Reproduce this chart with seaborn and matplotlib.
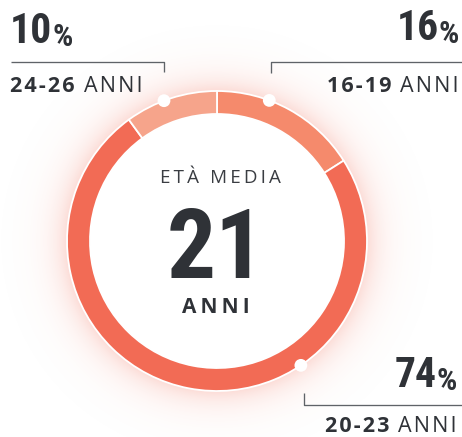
#!/usr/bin/env python3
# -*- coding: utf-8 -*-

import numpy as np
import matplotlib
matplotlib.use("Agg")
import matplotlib.pyplot as plt
import seaborn as sns

# ================= 0. 数据 =================
AGE_GROUPS = ["16-19", "20-23", "24-26"]
SHARES = [16, 74, 10]
SHARE_LABELS = ["16%", "74%", "10%"]
SEG_COLORS = ["#F58A6C", "#F26B55", "#F6A48B"]
CENTER_TITLE = "ETÀ MEDIA"
MEAN_AGE = "21"
UNIT = "ANNI"

# ================= 1. 画布配置 =================
W, H = 462, 437
CX, CY = 217, 437 - 241      # 圆心 (数据坐标 = 像素)
R_OUT, RING_W = 150, 23
DARK = "#2F3237"
LINE_C = "#5F6368"
NUM_FONT = ["Roboto Condensed", "Liberation Sans Narrow", "Roboto", "DejaVu Sans"]
TXT_FONT = ["Open Sans", "DejaVu Sans"]

sns.set_theme(style="white")
plt.rcParams["font.family"] = TXT_FONT


def spaced(s, sp="\u200a"):
    # 简单的字间距: 字母之间插入细空格
    return sp.join(s)


fig = plt.figure(figsize=(W / 100, H / 100), dpi=100)
ax = fig.add_axes([0, 0, 1, 1])

# ---- 光晕 ----
yy, xx = np.mgrid[0:H, 0:W] + 0.5
d = np.hypot(xx - CX, yy - CY)
alpha = np.where(d > R_OUT - 8, 0.24 * np.exp(-(d - R_OUT) / 16), 0.0)
alpha = np.clip(alpha, 0, 0.24)
glow = np.zeros((H, W, 4))
glow[..., :3] = np.array([242, 107, 84]) / 255
glow[..., 3] = alpha
ax.imshow(glow, extent=(0, W, 0, H), origin="lower", zorder=0, interpolation="bilinear")

# ---- 环形 ----
ax.pie(SHARES, colors=SEG_COLORS, startangle=90, counterclock=False,
       radius=R_OUT, center=(CX, CY),
       wedgeprops=dict(width=RING_W, edgecolor="white", linewidth=1.3))
for w in ax.patches:
    w.set_zorder(2)

# ---- 引线锚点 (顺时针角度, 从正上方起) ----
anchor_deg = {"16-19": 20.4, "20-23": 146.0, "24-26": -20.7}
for g in AGE_GROUPS:
    t = np.deg2rad(anchor_deg[g])
    ax.scatter(CX + R_OUT * np.sin(t), CY + R_OUT * np.cos(t), s=85,
               color="white", edgecolor="none", zorder=5)

# ---- 引线 ----
leaders = {
    "24-26": ([11, 164, 164], [375, 375, 365]),
    "16-19": ([W, 271, 271], [375, 375, 364]),
    "20-23": ([W, 304, 304], [32, 32, 44]),
}
for g in AGE_GROUPS:
    xs, ys = leaders[g]
    ax.plot(xs, ys, color=LINE_C, lw=0.95, solid_capstyle="butt", zorder=3)

# ---- 百分比 + 年龄段 ----
NUM_KW = dict(fontweight="bold", family=NUM_FONT, fontstretch="condensed", color=DARK)
LAB = 15.5
PCT = 23
GAP = 6.5


def label_left(x, y_num, y_lab, pct, group):
    t = ax.text(x, y_num, pct[:-1], fontsize=30, ha="left", va="baseline", **NUM_KW)
    ax.annotate("%", xy=(1, 0), xycoords=t, xytext=(0, 0), textcoords="offset points",
                fontsize=PCT, ha="left", va="bottom", **NUM_KW)
    t2 = ax.text(x, y_lab, spaced(group), fontsize=LAB, fontweight="bold", color=DARK,
                 ha="left", va="baseline")
    ax.annotate(spaced(UNIT), xy=(1, 0), xycoords=t2, xytext=(GAP, 0),
                textcoords="offset points", fontsize=LAB, color=DARK,
                ha="left", va="bottom")


def label_right(x, y_num, y_lab, pct, group):
    t = ax.text(x, y_num, "%", fontsize=PCT, ha="right", va="baseline", **NUM_KW)
    ax.annotate(pct[:-1], xy=(0, 0), xycoords=t, xytext=(0, 0), textcoords="offset points",
                fontsize=30, ha="right", va="bottom", **NUM_KW)
    t2 = ax.text(x, y_lab, spaced(UNIT), fontsize=LAB, color=DARK, ha="right", va="baseline")
    ax.annotate(spaced(group), xy=(0, 0), xycoords=t2, xytext=(-GAP, 0),
                textcoords="offset points", fontsize=LAB, fontweight="bold",
                color=DARK, ha="right", va="bottom")


label_right(459, 394, 345, SHARE_LABELS[0], AGE_GROUPS[0])
label_right(457, 47, 5, SHARE_LABELS[1], AGE_GROUPS[1])
label_left(10, 394, 345, SHARE_LABELS[2], AGE_GROUPS[2])

# ---- 中心文字 ----
ax.text(220, 254, spaced(CENTER_TITLE, "\u2009"), fontsize=13.5, color="#3A3D42",
        ha="center", va="baseline")
ax.text(216, 159, MEAN_AGE, fontsize=70, ha="center", va="baseline", **NUM_KW)
ax.text(216, 124, spaced(UNIT, "\u2009"), fontsize=15, fontweight="bold", color=DARK,
        ha="center", va="baseline")

ax.set_xlim(0, W)
ax.set_ylim(0, H)
ax.set_aspect("auto")
ax.axis("off")

fig.savefig("out.png", dpi=100)
